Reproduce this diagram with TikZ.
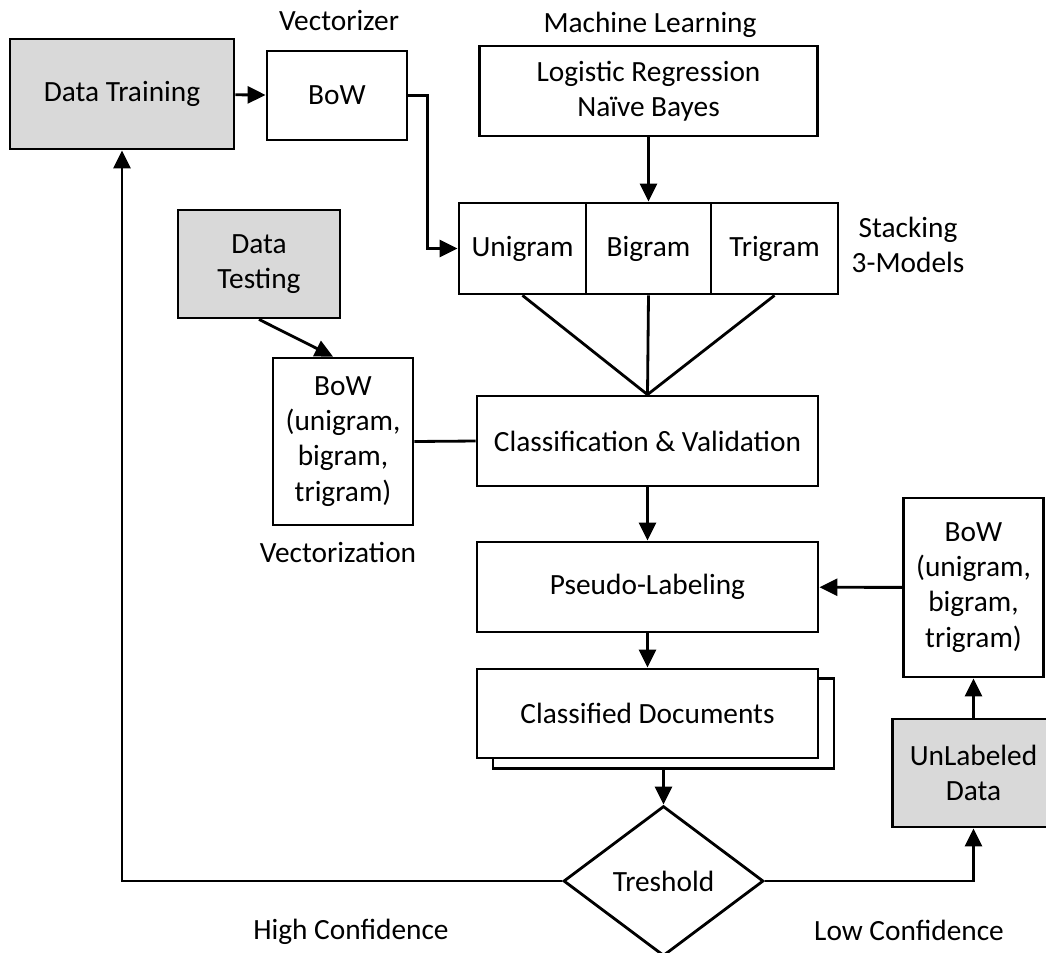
\documentclass[tikz,border=0pt]{standalone}
\usepackage{fontspec}
\setmainfont{Carlito}
\usetikzlibrary{arrows.meta,shapes.geometric}
\definecolor{datagray}{HTML}{D9D9D9}

\begin{document}
\begin{tikzpicture}[>={Triangle[length=0.36cm,width=0.34cm]},line width=1.6pt,
  font=\fontsize{16.7}{20}\selectfont,
  box/.style={draw,fill=white,inner sep=0pt,align=center},
  databox/.style={box,fill=datagray}]
  \useasboundingbox (0,0) rectangle (20.92,-19.04);

  % data sources
  \node[databox,minimum width=4.48cm,minimum height=2.2cm] (train) at (2.44,-1.88) {Data Training};
  \node[databox,minimum width=3.24cm,minimum height=2.16cm] (test) at (5.18,-5.28) {Data\\Testing};
  \node[databox,minimum width=3.24cm,minimum height=2.16cm] (unl) at (19.47,-15.46) {UnLabeled\\Data};

  % vectorizers
  \node[box,minimum width=2.8cm,minimum height=1.78cm] (bow) at (6.74,-1.91) {BoW};
  \node[box,minimum width=2.8cm,minimum height=3.34cm] (bowtest) at (6.86,-8.83) {BoW\\(unigram,\\bigram,\\trigram)};
  \node[box,minimum width=2.8cm,minimum height=3.58cm] (bowunl) at (19.47,-11.75) {BoW\\(unigram,\\bigram,\\trigram)};

  % models
  \node[box,minimum width=6.76cm,minimum height=1.8cm] (ml) at (12.97,-1.82) {Logistic Regression\\Naïve Bayes};
  \node[box,minimum width=2.54cm,minimum height=1.82cm] (uni) at (10.45,-4.97) {Unigram};
  \node[box,minimum width=2.5cm,minimum height=1.82cm] (bi) at (12.97,-4.97) {Bigram};
  \node[box,minimum width=2.54cm,minimum height=1.82cm] (tri) at (15.49,-4.97) {Trigram};

  % main column
  \node[box,minimum width=6.82cm,minimum height=1.8cm] (cv) at (12.95,-8.82) {Classification \& Validation};
  \node[box,minimum width=6.82cm,minimum height=1.8cm] (pseudo) at (12.95,-11.74) {Pseudo-Labeling};
  \node[box,minimum width=6.82cm,minimum height=1.8cm] (docsback) at (13.27,-14.47) {};
  \node[box,minimum width=6.82cm,minimum height=1.78cm] (docs) at (12.95,-14.27) {Classified Documents};
  \node[draw,diamond,fill=white,minimum width=4cm,minimum height=3cm,inner sep=0pt] (thr) at (13.27,-17.62) {Treshold};

  % labels
  \node (vec) at (6.78,-0.42) {Vectorizer};
  \node (mltitle) at (13.0,-0.5) {Machine Learning};
  \node[align=center] (stacking) at (18.16,-4.9) {Stacking\\3-Models};
  \node (vecz) at (6.76,-11.04) {Vectorization};
  \node (high) at (7.02,-18.64) {High Confidence};
  \node (low) at (18.18,-18.6) {Low Confidence};

  % connectors
  \draw[->] (train) -- (bow);
  \draw[->] (bow.east) -- ++(0.38,0) |- (uni.west);
  \draw[->] (ml) -- (bi);
  \draw (uni.south) -- (cv.north) (bi.south) -- (cv.north) (tri.south) -- (cv.north);
  \draw[->] (test.south) -- ([xshift=-0.2cm]bowtest.north);
  \draw (bowtest.east) -- (cv.west);
  \draw[->] (cv) -- (pseudo);
  \draw[->] (pseudo) -- (docs);
  \draw[->] (docsback.south) -- (thr.north);
  \draw[->] (thr.west) -| (train.south);
  \draw[->] (thr.east) -| (unl.south);
  \draw[->] (unl) -- (bowunl);
  \draw[->] (bowunl) -- (pseudo);
\end{tikzpicture}
\end{document}
